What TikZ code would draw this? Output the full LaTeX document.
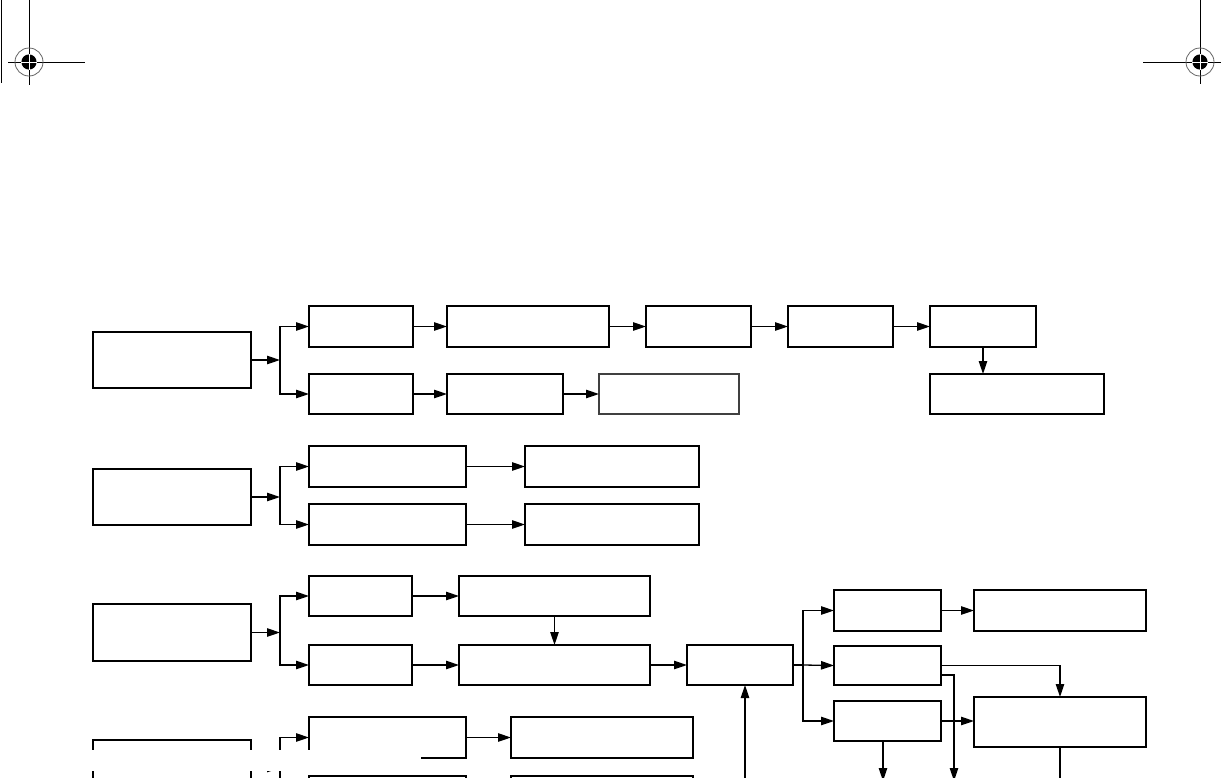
\documentclass[tikz,border=0pt]{standalone}
\usetikzlibrary{arrows.meta,fit,calc}
\begin{document}
\begin{tikzpicture}[x=0.5pt,y=-0.5pt,
  box/.style={draw, line width=1pt, inner sep=0pt, outer sep=0pt},
  greybox/.style={box, draw=black!75},
  conn/.style={line width=0.65pt},
  arr/.style={conn, -{Triangle[length=6.5pt,width=4.2pt]}},
  regline/.style={line width=0.5pt},
]
\clip (0,0) rectangle (1221,777);
\fill[white] (0,0) rectangle (1221,777);

% registration marks
\draw[regline] (1.5,0) -- (1.5,83);
\draw[regline] (8,62) -- (85,62) (29,0) -- (29,85);
\draw[black!60, line width=0.4pt] (29,62) circle[radius=7pt];
\fill (29,62) circle[radius=3.8pt];
\draw[white, line width=0.4pt] (21,62) -- (37,62) (29,54) -- (29,70);
\draw[regline] (1143,62) -- (1221,62) (1200,0) -- (1200,84);
\draw[black!60, line width=0.4pt] (1200,62) circle[radius=7pt];
\fill (1200,62) circle[radius=3.8pt];
\draw[white, line width=0.4pt] (1192,62) -- (1208,62) (1200,54) -- (1200,70);

% ---------- group 1 ----------
\node[box, fit={(93,332) (251,388)}] (A1) {};
\node[box, fit={(309,306) (413,347)}] (B1) {};
\node[box, fit={(447,306) (609,347)}] (C1) {};
\node[box, fit={(646,306) (751,347)}] (D1) {};
\node[box, fit={(788,306) (893,347)}] (E1) {};
\node[box, fit={(930,306) (1036,347)}] (F1) {};
\node[box, fit={(309,374) (413,414)}] (B2) {};
\node[box, fit={(447,374) (563,414)}] (C2) {};
\node[greybox, fit={(599,374) (739,414)}] (D2) {};
\node[box, fit={(930,374) (1104,414)}] (G1) {};
\coordinate (s1) at (280,360);
\draw[arr] (A1.east) -- (s1);
\draw[arr] (s1) |- (B1.west);
\draw[arr] (s1) |- (B2.west);
\draw[arr] (B1.east) -- (C1.west);
\draw[arr] (C1.east) -- (D1.west);
\draw[arr] (D1.east) -- (E1.west);
\draw[arr] (E1.east) -- (F1.west);
\draw[arr] (F1.south) -- (F1.south |- G1.north);
\draw[arr] (B2.east) -- (C2.west);
\draw[arr] (C2.east) -- (D2.west);

% ---------- group 2 ----------
\node[box, fit={(93,469) (251,525)}] (A2) {};
\node[box, fit={(309,446) (466,487)}] (B3) {};
\node[box, fit={(525,446) (699,487)}] (C3) {};
\node[box, fit={(309,504) (466,545)}] (B4) {};
\node[box, fit={(525,504) (699,545)}] (C4) {};
\coordinate (s2) at (280,497);
\draw[arr] (A2.east) -- (s2);
\draw[arr] (s2) |- (B3.west);
\draw[arr] (s2) |- (B4.west);
\draw[arr] (B3.east) -- (C3.west);
\draw[arr] (B4.east) -- (C4.west);

% ---------- group 3 ----------
\node[box, fit={(93,604) (251,661)}] (A3) {};
\node[box, fit={(309,576) (412,616)}] (B5) {};
\node[box, fit={(459,576) (650,616)}] (C5) {};
\node[box, fit={(309,645) (412,685)}] (B6) {};
\node[box, fit={(459,645) (650,685)}] (C6) {};
\node[box, fit={(687,645) (793,685)}] (H) {};
\node[box, fit={(834,590) (941,631)}] (I1) {};
\node[box, fit={(974,590) (1146,631)}] (J1) {};
\node[box, fit={(834,646) (941,685)}] (I2) {};
\node[box, fit={(834,701) (941,741)}] (I3) {};
\node[box, fit={(974,697) (1146,747)}] (K) {};
\coordinate (s3) at (280,632.5);
\coordinate (s4) at (803,665);
\coordinate (y675) at (0,675);
\coordinate (d2) at (954,781);
\coordinate (d3) at (883,781);
\coordinate (dk) at (1060,790);
\coordinate (hin) at (745,790);
\draw[arr] (A3.east) -- (s3);
\draw[arr] (s3) |- (B5.west);
\draw[arr] (s3) |- (B6.west);
\draw[arr] (B5.east) -- (C5.west);
\draw[arr] (B6.east) -- (C6.west);
\draw[arr] (C5.south) -- (C6.north);
\draw[arr] (C6.east) -- (H.west);
\draw[conn] (H.east) -- (s4);
\draw[arr] (s4) |- (I1.west);
\draw[arr] (s4) -- (I2.west);
\draw[arr] (s4) |- (I3.west);
\draw[arr] (I1.east) -- (J1.west);
\draw[arr] (I2.east) -| (K.north);
\draw[arr] (I2.east |- y675) -| (d2);
\draw[arr] (I3.east) -- (I3.east -| K.west);
\draw[arr] (d3 |- I3.south) -- (d3);
\draw[conn] (K.south) -- (dk);
\draw[arr] (hin) -- (hin |- H.south);

% ---------- group 4 (cut by page edge) ----------
\node[box, fit={(93,740) (251,796)}] (A4) {};
\node[box, fit={(309,717) (466,758)}] (B7) {};
\node[box, fit={(511,717) (693,758)}] (C7) {};
\node[box, fit={(309,776) (466,817)}] (B8) {};
\node[box, fit={(511,776) (693,817)}] (C8) {};
\coordinate (s5) at (280,768);
\draw[arr] (A4.east) -- (s5);
\draw[arr] (s5) |- (B7.west);
\draw[arr] (s5) |- (B8.west);
\draw[arr] (B7.east) -- (C7.west);
\draw[arr] (B8.east) -- (C8.west);
\fill[white] (80,749.5) rectangle (421,770.5);
\end{tikzpicture}
\end{document}
